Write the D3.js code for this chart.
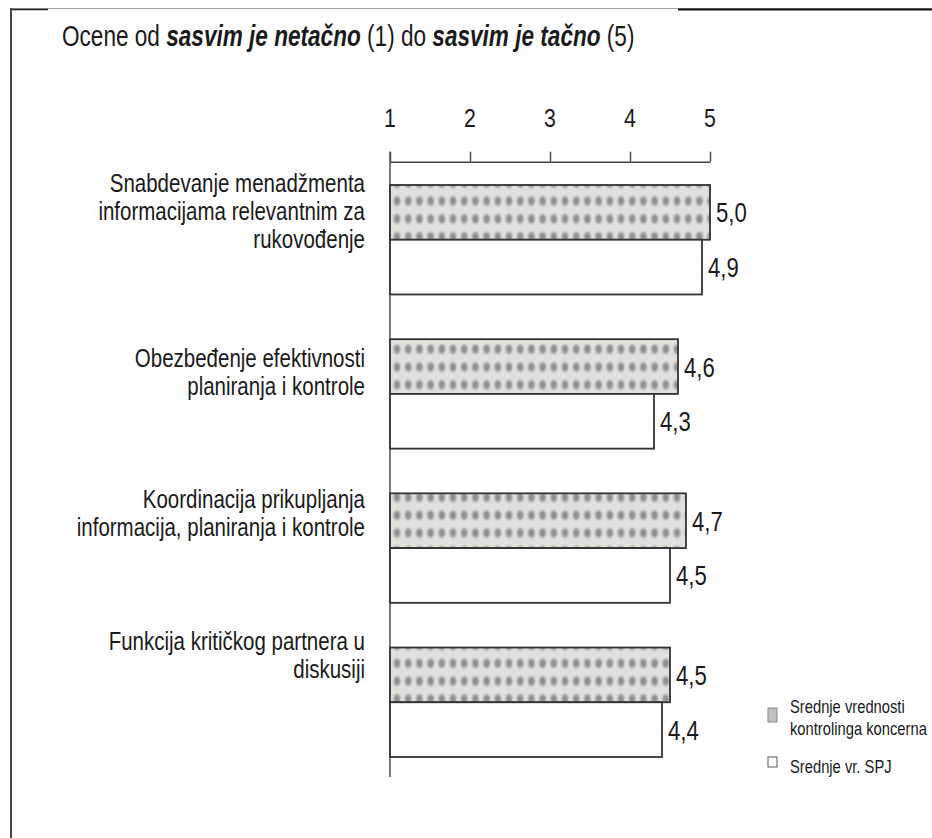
<!DOCTYPE html>
<html><head><meta charset="utf-8">
<script src="https://cdn.jsdelivr.net/npm/d3@7"></script>
<style>html,body{margin:0;padding:0;background:#fff;}svg{display:block;}</style>
</head><body>
<script>
// ---------- data ----------
const categories = [
  ["Snabdevanje menadžmenta", "informacijama relevantnim za", "rukovođenje"],
  ["Obezbeđenje efektivnosti", "planiranja i kontrole"],
  ["Koordinacija prikupljanja", "informacija, planiranja i kontrole"],
  ["Funkcija kritičkog partnera u", "diskusiji"]
];
const seriesKeys = ["koncern", "spj"];
const koncernValues = [5.0, 4.6, 4.7, 4.5];
const spjValues = [4.9, 4.3, 4.5, 4.4];
const legendLabels = [["Srednje vrednosti", "kontrolinga koncerna"], ["Srednje vr. SPJ"]];
const tickValues = [1, 2, 3, 4, 5];
const titleParts = [
  {t: "Ocene od ", b: false}, {t: "sasvim je netačno", b: true}, {t: " (1) do ", b: false},
  {t: "sasvim je tačno", b: true}, {t: " (5)", b: false}
];
// layout constants (not data)
const labelFirstBaselineOffset = [7, 28, 15, 2];

const W = 932, H = 838;
const svg = d3.select("body").append("svg").attr("width", W).attr("height", H);

// font detection: narrow if available, else compress regular
const probe = svg.append("text").style("font-family", '"Liberation Sans Narrow", monospace').style("font-size", "50px").text("abcdefghijmnop");
const w1 = probe.node().getComputedTextLength();
probe.style("font-family", "monospace");
const w2 = probe.node().getComputedTextLength();
probe.remove();
const hasNarrow = Math.abs(w1 - w2) > 1;
const FONT = hasNarrow ? '"Liberation Sans Narrow", sans-serif' : '"Liberation Sans", Arial, sans-serif';
const SX = hasNarrow ? 1 : 0.82;
function txt(parent, x, y, size, anchor, sx) {
  const s = (sx || 1) * SX;
  return parent.append("text")
    .attr("transform", `translate(${x},${y}) scale(${s},1)`)
    .style("font-family", FONT).style("font-size", size + "px")
    .attr("text-anchor", anchor || "start").attr("fill", "#1a1a1a");
}

// ---------- frame ----------
svg.append("line").attr("x1", 10).attr("x2", W).attr("y1", 8.5).attr("y2", 8.5).attr("stroke", "#a0a0a0").attr("stroke-width", 1);
svg.append("line").attr("x1", 10).attr("x2", 48).attr("y1", 9.5).attr("y2", 9.5).attr("stroke", "#222").attr("stroke-width", 1.5);
svg.append("line").attr("x1", 678).attr("x2", W).attr("y1", 9.5).attr("y2", 9.5).attr("stroke", "#111").attr("stroke-width", 2);
svg.append("line").attr("x1", 11).attr("x2", 11).attr("y1", 8).attr("y2", H).attr("stroke", "#444").attr("stroke-width", 2);

// ---------- title ----------
const title = txt(svg, 62, 46, 29, "start", 0.95);
titleParts.forEach(p => {
  title.append("tspan").text(p.t)
    .style("font-weight", p.b ? "bold" : "normal")
    .style("font-style", p.b ? "italic" : "normal");
});

// ---------- scales ----------
const x = d3.scaleLinear().domain([1, 5]).range([390, 710]);
const yGroup = d3.scaleBand().domain(d3.range(categories.length)).range([185, 757]).paddingInner(0.29).paddingOuter(0);
const ySeries = d3.scaleBand().domain(seriesKeys).range([0, yGroup.bandwidth()]).padding(0);

// ---------- patterns ----------
const defs = svg.append("defs");
const blur = defs.append("filter").attr("id", "soft").attr("x", "-50%").attr("y", "-50%").attr("width", "200%").attr("height", "200%");
blur.append("feGaussianBlur").attr("stdDeviation", 1.0);
categories.forEach((c, i) => {
  const p = defs.append("pattern").attr("id", "dots" + i).attr("patternUnits", "userSpaceOnUse")
    .attr("x", x(1)).attr("y", yGroup(i)).attr("width", 11.2).attr("height", 17.8);
  p.append("rect").attr("width", 11.2).attr("height", 17.8).attr("fill", "#e1e0da");
  p.append("ellipse").attr("cx", 7).attr("cy", 9).attr("rx", 3.3).attr("ry", 4.6).attr("fill", "#8e8e8e").attr("filter", "url(#soft)");
});

// ---------- axis ----------
const axis = d3.axisTop(x).tickValues(tickValues).tickSize(10).tickSizeOuter(0).tickPadding(24.7).tickFormat(d3.format("d"));
const gAxis = svg.append("g").attr("transform", "translate(0,161.7)").call(axis);
gAxis.select(".domain").attr("stroke", "#444").attr("stroke-width", 1.4);
gAxis.selectAll(".tick line").attr("stroke", "#444").attr("stroke-width", 1.4);
gAxis.selectAll(".tick text").remove();
tickValues.forEach(v => { txt(svg, x(v), 127, 26, "middle").text(String(v)); });
svg.append("line").attr("x1", x(1)).attr("x2", x(1)).attr("y1", 151.7).attr("y2", 777).attr("stroke", "#444").attr("stroke-width", 1.4);

// ---------- bars ----------
const fmt = v => d3.format(".1f")(v).replace(".", ",");
categories.forEach((c, i) => {
  const g = svg.append("g").attr("transform", `translate(0,${yGroup(i)})`);
  const vals = {koncern: koncernValues[i], spj: spjValues[i]};
  seriesKeys.forEach(k => {
    const v = vals[k];
    g.append("rect").attr("x", x(1)).attr("y", ySeries(k))
      .attr("width", x(v) - x(1)).attr("height", ySeries.bandwidth())
      .attr("fill", k === "koncern" ? `url(#dots${i})` : "#fff")
      .attr("stroke", "#333").attr("stroke-width", 1.8);
    txt(g, x(v) + 6, ySeries(k) + ySeries.bandwidth() / 2 + 10, 27).text(fmt(v));
  });
  // category label
  const base = yGroup(i) + labelFirstBaselineOffset[i];
  c.forEach((line, j) => { txt(svg, 365, base + j * 28, 25, "end").text(line); });
});

// ---------- legend ----------
const legendMarkers = [
  {y: 708, h: 14, fill: "#c0c0bc", stroke: "#8a8a8a"},
  {y: 757, h: 10, fill: "#fff", stroke: "#555"}
];
legendLabels.forEach((lines, i) => {
  const m = legendMarkers[i];
  svg.append("rect").attr("x", 768).attr("y", m.y).attr("width", 9).attr("height", m.h)
    .attr("fill", m.fill).attr("stroke", m.stroke).attr("stroke-width", 1);
});
legendLabels[0].forEach((l, j) => txt(svg, 790, 713 + j * 22, 18).text(l));
txt(svg, 790, 773, 18).text(legendLabels[1][0]);
</script>
</body></html>
